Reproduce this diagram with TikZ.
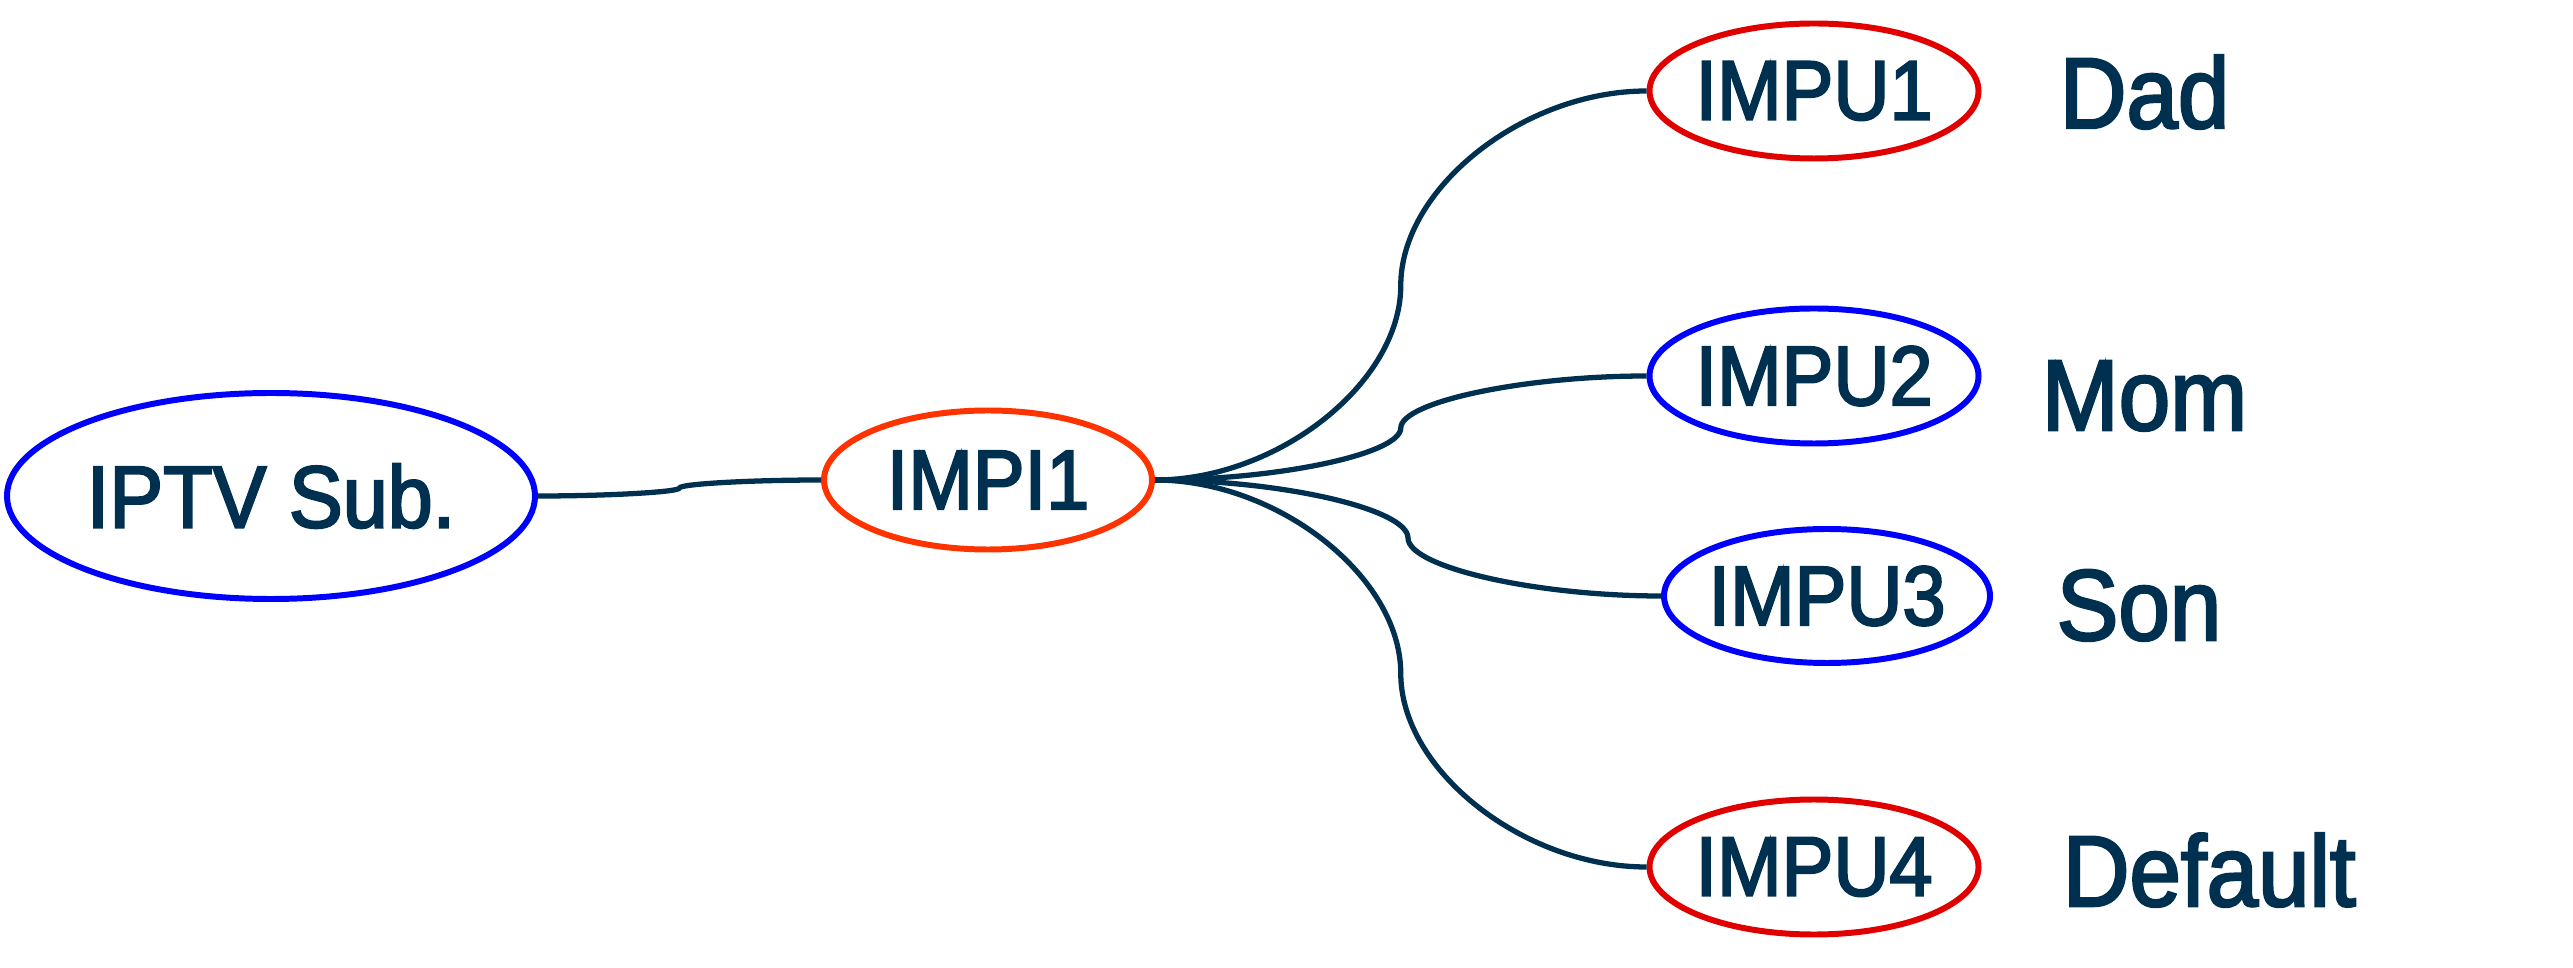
\documentclass[tikz,border=0pt]{standalone}
\usepackage{fontspec}
\setmainfont{Liberation Sans}[FakeStretch=0.92, FakeBold=2.5]
\usetikzlibrary{shapes.geometric,calc}
\definecolor{ink}{HTML}{00304F}
\definecolor{subblue}{HTML}{0000FF}
\definecolor{impired}{HTML}{FF3300}
\definecolor{pured}{HTML}{E00000}
\begin{document}
\begin{tikzpicture}[
  ring/.style={ellipse, draw, line width=1.7pt, inner xsep=-8pt, inner ysep=0pt,
    text=ink, font=\fontsize{24}{28}\selectfont},
  tag/.style={anchor=base west, inner sep=0pt, text=ink, font=\fontsize{28.6}{34}\selectfont},
  link/.style={draw=ink, line width=1.5pt}]
  \useasboundingbox (0,0) rectangle (25.73,9.67);

  % Subscription and private identity
  \node[ring, draw=subblue, minimum width=5.28cm, minimum height=2.06cm, font=\fontsize{25}{29}\selectfont] (iptv) at (2.71,4.71) {IPTV Sub.};
  \node[ring, draw=impired, minimum width=3.28cm, minimum height=1.39cm] (impi) at (9.88,4.87) {IMPI1};

  % Public identities
  \node[ring, draw=pured, minimum width=3.29cm, minimum height=1.35cm] (impu1) at (18.14,8.76) {IMPU1};
  \node[ring, draw=subblue, minimum width=3.29cm, minimum height=1.35cm] (impu2) at (18.14,5.91) {IMPU2};
  \node[ring, draw=subblue, minimum width=3.26cm, minimum height=1.34cm] (impu3) at (18.27,3.71) {IMPU3};
  \node[ring, draw=pured, minimum width=3.29cm, minimum height=1.35cm] (impu4) at (18.14,1.00) {IMPU4};

  % Users
  \node[tag] (dad) at (20.59,8.39) {Dad};
  \node[tag] (mom) at (20.41,5.37) {Mom};
  \node[tag] (son) at (20.56,3.27) {Son};
  \node[tag] (dflt) at (20.62,0.61) {Default};

  % Bracket-like connectors, kinked at the midpoint
  \foreach \a/\b in {iptv/impi, impi/impu1, impi/impu2, impi/impu3, impi/impu4}
    \draw[link] let \p1=(\a.east), \p2=(\b.west) in
      (\p1) .. controls ({0.75*\x1+0.25*\x2},\y1) and ({0.5*\x1+0.5*\x2},{0.75*\y1+0.25*\y2})
      .. ({0.5*\x1+0.5*\x2},{0.5*\y1+0.5*\y2})
      .. controls ({0.5*\x1+0.5*\x2},{0.25*\y1+0.75*\y2}) and ({0.25*\x1+0.75*\x2},\y2) .. (\p2);
\end{tikzpicture}
\end{document}
